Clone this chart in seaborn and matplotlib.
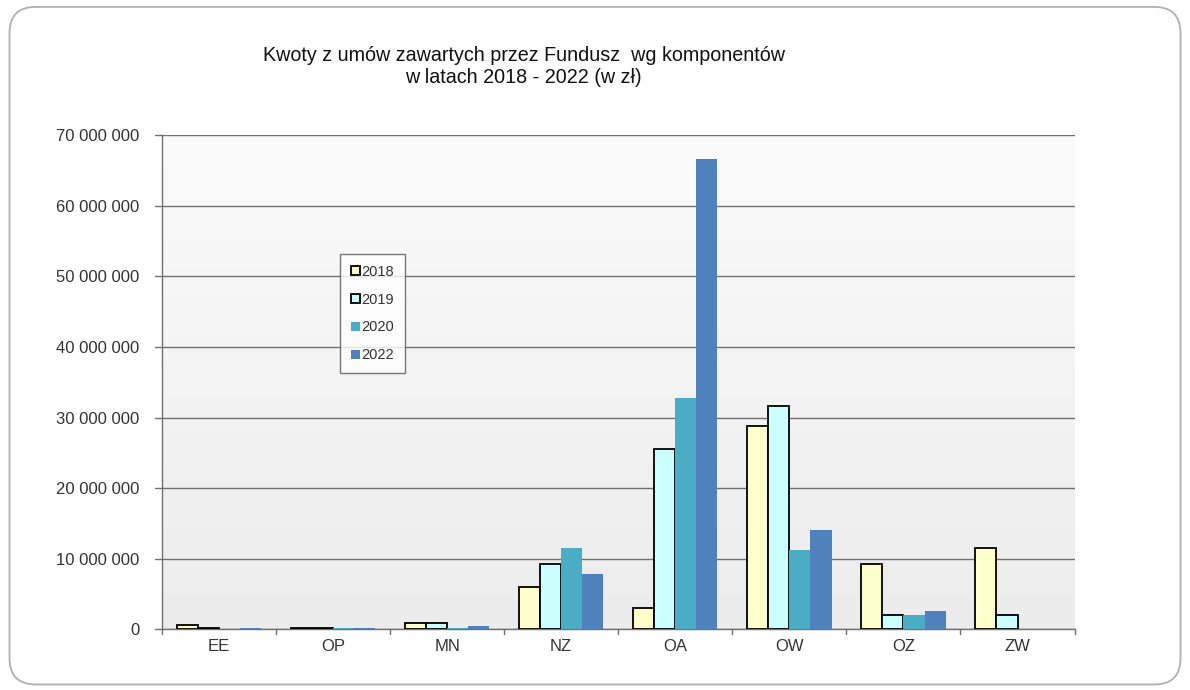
import numpy as np
import pandas as pd
import matplotlib
matplotlib.use('Agg')
import matplotlib.pyplot as plt
import seaborn as sns
from matplotlib.patches import FancyBboxPatch
from matplotlib.ticker import FuncFormatter, MultipleLocator

categories = ['EE', 'OP', 'MN', 'NZ', 'OA', 'OW', 'OZ', 'ZW']
years = ['2018', '2019', '2020', '2022']

vals_2018 = [600000, 120000, 900000, 5950000, 3000000, 28800000, 9300000, 11500000]
vals_2019 = [250000, 120000, 900000, 9200000, 25500000, 31700000, 2000000, 2000000]
vals_2020 = [0, 200000, 200000, 11500000, 32700000, 11200000, 2000000, 0]
vals_2022 = [250000, 150000, 400000, 7800000, 66600000, 14000000, 2600000, 0]

colors = ['#FFFFCC', '#CCFFFF', '#4BACC6', '#4F81BD']
edges = ['black', 'black', 'none', 'none']

rows = []
for year, vals in zip(years, [vals_2018, vals_2019, vals_2020, vals_2022]):
    for cat, v in zip(categories, vals):
        rows.append({'Komponent': cat, 'Rok': year, 'Kwota': v})
df = pd.DataFrame(rows)

sns.set_theme(style='white')
plt.rcParams['font.family'] = ['Liberation Sans', 'DejaVu Sans']

fig = plt.figure(figsize=(11.9, 6.9), dpi=100)
fig.patch.set_facecolor('white')

# rounded outer frame
frame = FancyBboxPatch((0.008, 0.008), 0.984, 0.982,
                       boxstyle='round,pad=0,rounding_size=0.022',
                       transform=fig.transFigure, facecolor='none',
                       edgecolor='#b0b0b0', linewidth=1.3, zorder=10,
                       mutation_aspect=1190 / 690)
fig.patches.append(frame)

ax = fig.add_axes([0.136, 0.088, 0.767, 0.716])

sns.barplot(data=df, x='Komponent', y='Kwota', hue='Rok', hue_order=years,
            palette=colors, width=0.74, gap=0, ax=ax, legend=True,
            saturation=1)

for cont, ec in zip(ax.containers, edges):
    for bar in cont:
        bar.set_edgecolor(ec)
        bar.set_linewidth(1.3 if ec != 'none' else 0)
        bar.set_zorder(3)

# gradient background
grad = np.linspace(0, 1, 256).reshape(-1, 1)
ax.imshow(grad, extent=[-0.5, len(categories) - 0.5, 0, 70000000],
          aspect='auto', cmap=matplotlib.colors.LinearSegmentedColormap.from_list(
              'g', ['#ececec', '#fbfbfb']),
          origin='lower', zorder=0)
ax.set_xlim(-0.5, len(categories) - 0.5)
ax.set_ylim(0, 70000000)

ax.yaxis.set_major_locator(MultipleLocator(10000000))
ax.yaxis.set_major_formatter(FuncFormatter(lambda v, p: f'{int(v):,}'.replace(',', ' ')))
ax.grid(axis='y', color='#707070', linewidth=1.0, zorder=1)
ax.set_axisbelow(True)

for side in ['top', 'right']:
    ax.spines[side].set_visible(False)
for side in ['left', 'bottom']:
    ax.spines[side].set_color('#707070')
    ax.spines[side].set_linewidth(1.0)

ax.set_xlabel('')
ax.set_ylabel('')
ax.tick_params(axis='both', labelsize=12, colors='#333333', length=0)
ax.tick_params(axis='y', pad=16)
ax.tick_params(axis='x', pad=7)

# ticks between categories
for k in range(len(categories) + 1):
    ax.plot([k - 0.5, k - 0.5], [0, -700000], color='#707070', lw=1,
            clip_on=False, zorder=4)
for v in range(0, 70000001, 10000000):
    ax.plot([-0.5 - 0.06, -0.5], [v, v], color='#707070', lw=1,
            clip_on=False, zorder=4)

leg = ax.legend(loc='upper left', bbox_to_anchor=(0.195, 0.76), fontsize=10.5,
                frameon=True, fancybox=False, handlelength=0.6,
                handleheight=0.6, handletextpad=0.15, labelspacing=0.95,
                borderpad=0.75, borderaxespad=0)
leg.get_frame().set_edgecolor('#555555')
leg.get_frame().set_linewidth(1.0)
for h, ec in zip(leg.legend_handles, edges):
    h.set_edgecolor(ec)
    h.set_linewidth(1.3 if ec != 'none' else 0)
for t in leg.get_texts():
    t.set_color('#333333')

fig.text(0.44, 0.903, 'Kwoty z umów zawartych przez Fundusz  wg komponentów\nw latach 2018 - 2022 (w zł)',
         ha='center', va='center', fontsize=14.2, color='#111111', linespacing=1.2)

fig.savefig('out.png', dpi=100)
